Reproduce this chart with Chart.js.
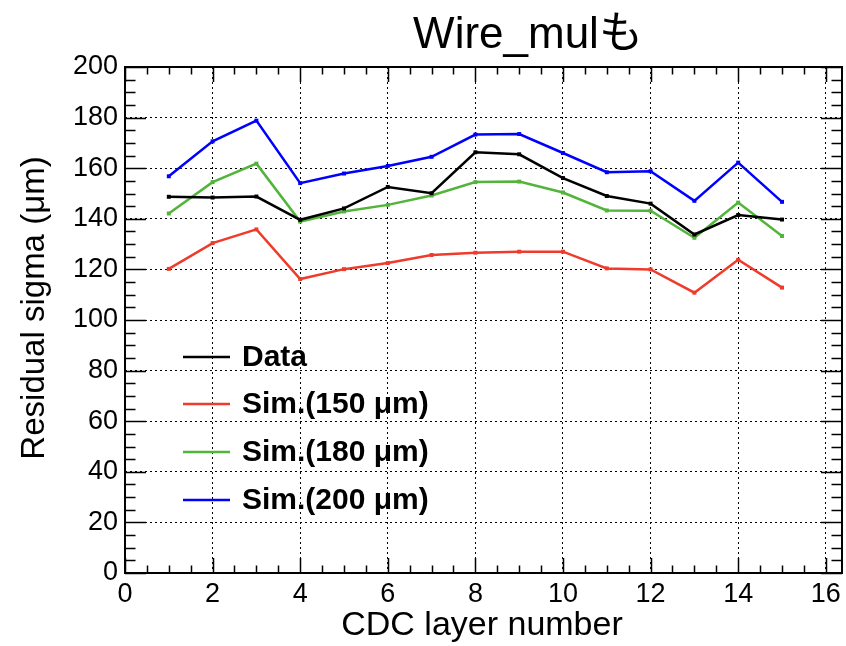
<!DOCTYPE html>
<html><head><meta charset="utf-8">
<script src="https://cdn.jsdelivr.net/npm/chart.js@4/dist/chart.umd.min.js"></script>
<style>html,body{margin:0;padding:0;background:#fff;}#wrap{width:846px;height:646px;}</style>
</head><body><div id="wrap"><canvas id="c" width="846" height="646"></canvas></div>
<script>
const chartTitle = 'Wire_mulも';
const xTitle = 'CDC layer number';
const yTitle = 'Residual sigma (μm)';
const layers = [1,2,3,4,5,6,7,8,9,10,11,12,13,14,15];
const dataSigma = [148.7,148.4,148.8,139.6,144.1,152.6,150.1,166.3,165.5,156.1,149.0,146.0,133.8,141.5,139.7];
const sim150 = [120.2,130.4,135.8,116.2,120.1,122.5,125.7,126.6,127.0,127.0,120.4,120.0,110.8,123.8,112.8];
const sim180 = [142.1,154.5,161.8,138.9,142.9,145.5,149.2,154.5,154.7,150.4,143.3,143.2,132.5,146.4,133.2];
const sim200 = [156.8,170.6,178.8,154.1,157.9,160.9,164.5,173.3,173.5,166.0,158.4,158.8,147.1,162.2,146.7];
const seriesLabels = ['Data','Sim.(150 μm)','Sim.(180 μm)','Sim.(200 μm)'];
const seriesColors = ['#000000','#ee3b2b','#52b43a','#0000ff'];
const xTickLabels = [0,2,4,6,8,10,12,14,16];
const yTickLabels = [0,20,40,60,80,100,120,140,160,180,200];

const FONT = '"Liberation Sans", Arial, Helvetica, sans-serif';
const seriesValues = [dataSigma, sim150, sim180, sim200];

const datasets = seriesValues.map((vals, i) => ({
  label: seriesLabels[i],
  data: layers.map((x, j) => ({x: x, y: vals[j]})),
  borderColor: seriesColors[i],
  backgroundColor: seriesColors[i],
  borderWidth: 2.5,
  pointStyle: 'rect',
  pointRadius: 2.8,
  pointBorderWidth: 0,
  tension: 0,
  fill: false
}));

const rootDeco = {
  id: 'rootDeco',
  afterDraw(chart) {
    const ctx = chart.ctx;
    const a = chart.chartArea;
    const xs = chart.scales.x, ys = chart.scales.y;
    ctx.save();
    // inner ticks
    ctx.strokeStyle = '#000';
    ctx.lineWidth = 1.5;
    ctx.beginPath();
    for (let v = 0; v <= 16.001; v += 0.5) {
      const px = Math.round(xs.getPixelForValue(v)) + 0.5;
      const major = Math.abs(v / 2 - Math.round(v / 2)) < 1e-6;
      const len = major ? 15 : 7.5;
      ctx.moveTo(px, a.bottom); ctx.lineTo(px, a.bottom - len);
      ctx.moveTo(px, a.top); ctx.lineTo(px, a.top + len);
    }
    for (let v = 0; v <= 200.001; v += 5) {
      const py = Math.round(ys.getPixelForValue(v)) + 0.5;
      const major = v % 20 === 0;
      const len = major ? 21 : 10.5;
      ctx.moveTo(a.left, py); ctx.lineTo(a.left + len, py);
      ctx.moveTo(a.right, py); ctx.lineTo(a.right - len, py);
    }
    ctx.stroke();
    // frame
    ctx.lineWidth = 2;
    ctx.strokeRect(a.left, a.top, a.right - a.left, a.bottom - a.top);

    // legend
    const lx0 = 183, lx1 = 230, tx = 242;
    const ly = [357, 404, 452, 500];
    ctx.font = 'bold 30px ' + FONT;
    ctx.textBaseline = 'middle';
    ctx.textAlign = 'left';
    chart.data.datasets.forEach((ds, i) => {
      ctx.strokeStyle = ds.borderColor;
      ctx.lineWidth = 2.5;
      ctx.beginPath();
      ctx.moveTo(lx0, ly[i]); ctx.lineTo(lx1, ly[i]);
      ctx.stroke();
      ctx.fillStyle = '#000';
      ctx.fillText(ds.label, tx, ly[i] + 1);
    });

    // main title
    ctx.fillStyle = '#000';
    ctx.font = '44px ' + FONT + ', "Noto Sans CJK JP"';
    ctx.textAlign = 'center';
    ctx.textBaseline = 'middle';
    ctx.fillText(chartTitle, 528, 36);

    // x axis title
    ctx.font = '34px ' + FONT;
    ctx.fillText(xTitle, 482, 626);

    // y axis title
    ctx.save();
    ctx.translate(35, 308);
    ctx.rotate(-Math.PI / 2);
    ctx.font = '33px ' + FONT;
    ctx.fillText(yTitle, 0, 0);
    ctx.restore();
    ctx.restore();
  }
};

new Chart(document.getElementById('c'), {
  type: 'line',
  data: { datasets: datasets },
  options: {
    responsive: false,
    animation: false,
    devicePixelRatio: 1,
    layout: { padding: { left: 0, top: 67, right: 3, bottom: 0 } },
    plugins: { legend: { display: false }, tooltip: { enabled: false }, title: { display: false } },
    scales: {
      x: {
        type: 'linear',
        min: 0, max: 16.37,
        afterFit(s) { s.height = 73; },
        afterBuildTicks(s) { s.ticks = xTickLabels.map(v => ({ value: v })); },
        ticks: { stepSize: 2, includeBounds: false, padding: 5, color: '#000', font: { family: FONT, size: 27 }, maxRotation: 0 },
        grid: { color: '#000', lineWidth: 1, drawTicks: false },
        border: { display: false, dash: [2, 3] }
      },
      y: {
        type: 'linear',
        min: 0, max: 200,
        afterFit(s) { s.width = 125; },
        afterBuildTicks(s) { s.ticks = yTickLabels.map(v => ({ value: v })); },
        ticks: { stepSize: 20, padding: 7, color: '#000', font: { family: FONT, size: 27 } },
        grid: { color: '#000', lineWidth: 1, drawTicks: false },
        border: { display: false, dash: [2, 3] }
      }
    }
  },
  plugins: [rootDeco]
});
</script>
</body></html>
